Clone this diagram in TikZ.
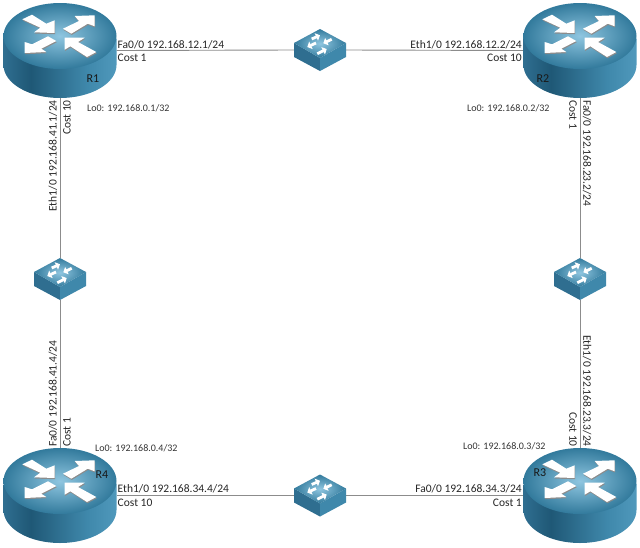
\documentclass[tikz,border=0pt]{standalone}
\usepackage{fontspec}
\setmainfont{Carlito}
\usetikzlibrary{arrows.meta}
\definecolor{topout}{HTML}{327A9C}
\definecolor{topin}{HTML}{8FC6E0}
\definecolor{sa}{HTML}{2F6E90}
\definecolor{sb}{HTML}{1F5876}
\definecolor{sc}{HTML}{3F88AB}
\definecolor{sd}{HTML}{5AA3C6}
\definecolor{se}{HTML}{3B7FA0}
\pgfdeclarehorizontalshading{rside}{100bp}{color(0bp)=(sa);color(25bp)=(sa);color(37bp)=(sb);color(62bp)=(sc);color(83bp)=(sd);color(85bp)=(se);color(100bp)=(se)}
\tikzset{
  link/.style={draw=black!45,line width=0.9pt},
  lab/.style={font=\fontsize{11.5}{12}\selectfont,inner sep=0pt,text=black!85},
  lo/.style={font=\fontsize{10}{10}\selectfont,inner sep=0pt,text=black!80},
  rname/.style={font=\fontsize{12}{12}\selectfont,inner sep=0pt,text=black!90},
  routerbox/.style={minimum width=113pt,minimum height=95pt,inner sep=0pt,outer sep=0pt},
  switchbox/.style={minimum width=52pt,minimum height=42pt,inner sep=0pt,outer sep=0pt},
  swarrow/.style={draw=white,line width=2.8pt,-{Triangle[length=4pt,width=8pt]}},
}
\newcommand{\routericon}[1]{%
  \begin{scope}[shift={(#1.center)},yshift=14.5pt]
    \shade[shading=rside]
      (-56.5pt,-3pt) -- (-56.5pt,-29pt) arc[start angle=180,end angle=360,x radius=56.5pt,y radius=33pt] -- (56.5pt,-3pt) -- cycle;
    \shade[inner color=topin,outer color=topout,shading=radial] (0pt,0pt) ellipse[x radius=56.5pt,y radius=33pt];
    \foreach \dx/\dy/\col in {0.5/-1.2/black!45,0/0/white}{
      \begin{scope}[shift={(\dx pt,\dy pt)}]
      \fill[\col] (-37.7pt,16.7pt) -- (-28pt,21.3pt) -- (-13.7pt,12.3pt) -- (-5.3pt,15.7pt) -- (-5.3pt,3pt) -- (-26pt,3.7pt) -- (-19.7pt,8.3pt) -- cycle;
      \fill[\col] (3pt,7.3pt) -- (19pt,15pt) -- (14.7pt,20pt) -- (34.7pt,20.7pt) -- (34.7pt,9.7pt) -- (27.7pt,12.3pt) -- (11.3pt,2.3pt) -- cycle;
      \fill[\col] (-12pt,-0.3pt) -- (-3.7pt,-5pt) -- (-18.7pt,-12.7pt) -- (-13.7pt,-16pt) -- (-35.3pt,-17pt) -- (-35.3pt,-6pt) -- (-28pt,-8.3pt) -- cycle;
      \fill[\col] (4.7pt,-1.7pt) -- (24.7pt,-1.7pt) -- (18pt,-6pt) -- (36.3pt,-16pt) -- (27pt,-21pt) -- (10.3pt,-10.3pt) -- (4.7pt,-13.7pt) -- cycle;
      \end{scope}
    }
  \end{scope}}
\newcommand{\switchicon}[1]{%
  \begin{scope}[shift={(#1.center)}]
    \fill[sa] (-26pt,7pt) -- (0pt,-8pt) -- (0pt,-21pt) -- (-26pt,-7pt) -- cycle;
    \fill[sc] (26pt,7pt) -- (0pt,-8pt) -- (0pt,-21pt) -- (26pt,-7pt) -- cycle;
    \shade[inner color=topin,outer color=topout,shading=radial] (0pt,21pt) -- (26pt,7pt) -- (0pt,-8pt) -- (-26pt,7pt) -- cycle;
    \draw[swarrow] (-8.3pt,11pt) -- (0pt,14.7pt);
    \draw[swarrow] (11.7pt,10.7pt) -- (3.3pt,6.7pt);
    \draw[swarrow] (-4pt,7pt) -- (-12.7pt,3pt);
    \draw[swarrow] (-2.7pt,-3.7pt) -- (6.7pt,1pt);
  \end{scope}}
\begin{document}
\begin{tikzpicture}[x=1pt,y=-1pt]
\useasboundingbox (0,0) rectangle (640,547);
\node[routerbox] (r1) at (60,50.5) {};
\node[routerbox] (r2) at (580,50.5) {};
\node[routerbox] (r3) at (580,495.5) {};
\node[routerbox] (r4) at (60,495.5) {};
\node[switchbox] (s12) at (320,50) {};
\node[switchbox] (s23) at (580,279) {};
\node[switchbox] (s34) at (320,495.5) {};
\node[switchbox] (s41) at (60,279) {};
\draw[link] (r1.east) -- (s12.west);
\draw[link] (s12.east) -- (r2.west);
\draw[link] (r2.south) -- (s23.north);
\draw[link] (s23.south) -- (r3.north);
\draw[link] (r3.west) -- (s34.east);
\draw[link] (s34.west) -- (r4.east);
\draw[link] (r4.north) -- (s41.south);
\draw[link] (s41.north) -- (r1.south);
\routericon{r1}\routericon{r2}\routericon{r3}\routericon{r4}
\switchicon{s12}\switchicon{s23}\switchicon{s34}\switchicon{s41}
\node[rname,anchor=center] (n1) at (93,79) {R1};
\node[rname,anchor=center] (n2) at (543,79) {R2};
\node[rname,anchor=center] (n3) at (540,473) {R3};
\node[rname,anchor=center] (n4) at (102,475) {R4};
\node[lab,anchor=west] (a1) at (117.5,44.5) {Fa0/0 192.168.12.1/24};
\node[lab,anchor=west] (a2) at (117.5,58) {Cost 1};
\node[lab,anchor=east] (b1) at (522,44.5) {Eth1/0 192.168.12.2/24};
\node[lab,anchor=east] (b2) at (522,58) {Cost 10};
\node[lab,anchor=west] (c1) at (117.5,488.5) {Eth1/0 192.168.34.4/24};
\node[lab,anchor=west] (c2) at (117.5,502.5) {Cost 10};
\node[lab,anchor=east] (d1) at (522,488.5) {Fa0/0 192.168.34.3/24};
\node[lab,anchor=east] (d2) at (522,502.5) {Cost 1};
\node[lab,rotate=90,anchor=east] (e1) at (53,100) {Eth1/0 192.168.41.1/24};
\node[lab,rotate=90,anchor=east] (e2) at (67,100) {Cost 10};
\node[lab,rotate=-90,anchor=west] (f1) at (587,100) {Fa0/0 192.168.23.2/24};
\node[lab,rotate=-90,anchor=west] (f2) at (573,100) {Cost 1};
\node[lab,rotate=90,anchor=west] (g1) at (53,447) {Fa0/0 192.168.41.4/24};
\node[lab,rotate=90,anchor=west] (g2) at (67,447) {Cost 1};
\node[lab,rotate=-90,anchor=east] (h1) at (587,447) {Eth1/0 192.168.23.3/24};
\node[lab,rotate=-90,anchor=east] (h2) at (573,447) {Cost 10};
\node[lo,anchor=west] (l1) at (87,108) {Lo0: 192.168.0.1/32};
\node[lo,anchor=west] (l2) at (467,108) {Lo0: 192.168.0.2/32};
\node[lo,anchor=west] (l3) at (463,446) {Lo0: 192.168.0.3/32};
\node[lo,anchor=west] (l4) at (95,448) {Lo0: 192.168.0.4/32};
\end{tikzpicture}
\end{document}
